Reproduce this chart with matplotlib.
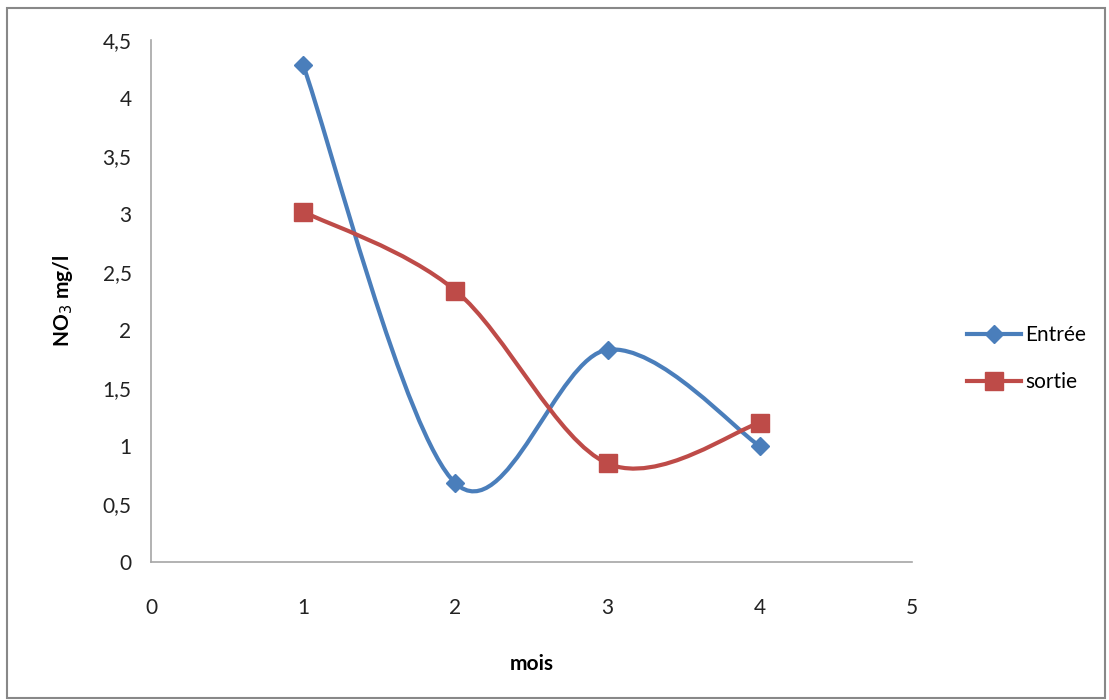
import numpy as np
import matplotlib
matplotlib.use("Agg")
import matplotlib.pyplot as plt
from matplotlib.path import Path
from matplotlib.patches import PathPatch, Rectangle
from matplotlib.lines import Line2D
from matplotlib.ticker import FuncFormatter, MultipleLocator

plt.rcParams['font.family'] = ['Lato', 'DejaVu Sans']

# data
mois = [1, 2, 3, 4]
entree = [4.28, 0.68, 1.83, 1.00]
sortie = [3.02, 2.34, 0.85, 1.20]

blue = '#4A7EBB'
red = '#BE4B48'


def smooth_path(x, y):
    # Excel-like smoothed line: Catmull-Rom converted to cubic Bezier
    pts = np.column_stack([x, y]).astype(float)
    ext = np.vstack([pts[0], pts, pts[-1]])
    verts = [pts[0]]
    codes = [Path.MOVETO]
    for i in range(1, len(ext) - 2):
        p0, p1, p2, p3 = ext[i - 1], ext[i], ext[i + 1], ext[i + 2]
        c1 = p1 + (p2 - p0) / 6.0
        c2 = p2 - (p3 - p1) / 6.0
        verts += [c1, c2, p2]
        codes += [Path.CURVE4] * 3
    return Path(verts, codes)


fig = plt.figure(figsize=(11.09, 7.0), dpi=100)
fig.patches.append(Rectangle((0.0065, 0.003), 0.99, 0.985, transform=fig.transFigure,
                             fill=False, edgecolor='#888888', lw=1.5))

ax = fig.add_axes([0.1362, 0.197, 0.6862, 0.7459])

for ys, col, mk, ms in [(entree, blue, 'D', 9.5), (sortie, red, 's', 13)]:
    ax.add_patch(PathPatch(smooth_path(mois, ys), facecolor='none', edgecolor=col,
                           lw=3.0, capstyle='round', zorder=2))
    ax.plot(mois, ys, linestyle='none', marker=mk, ms=ms, color=col, zorder=3)

ax.set_xlim(0, 5)
ax.set_ylim(0, 4.5)
ax.xaxis.set_major_locator(MultipleLocator(1))
ax.yaxis.set_major_locator(MultipleLocator(0.5))
fmt = FuncFormatter(lambda v, p: ('%g' % v).replace('.', ','))
ax.xaxis.set_major_formatter(fmt)
ax.yaxis.set_major_formatter(fmt)
ax.tick_params(length=0, labelsize=15, colors='#222222')
ax.tick_params(axis='y', pad=14)
ax.tick_params(axis='x', pad=26)

for s in ['top', 'right']:
    ax.spines[s].set_visible(False)
for s in ['left', 'bottom']:
    ax.spines[s].set_color('#A6A6A6')
    ax.spines[s].set_linewidth(1.2)

ax.set_xlabel('mois', fontsize=15, fontweight='bold', labelpad=26)
ax.set_ylabel('NO$_3$ mg/l', fontsize=15, fontweight='bold', labelpad=20)

handles = [Line2D([], [], color=blue, lw=3.0, marker='D', ms=9.5),
           Line2D([], [], color=red, lw=3.0, marker='s', ms=13)]
fig.legend(handles, ['Entrée', 'sortie'], loc='center left',
           bbox_to_anchor=(0.855, 0.488), frameon=False, fontsize=15,
           handlelength=2.6, handletextpad=0.2, labelspacing=1.3)

fig.savefig('out.png', dpi=100)
